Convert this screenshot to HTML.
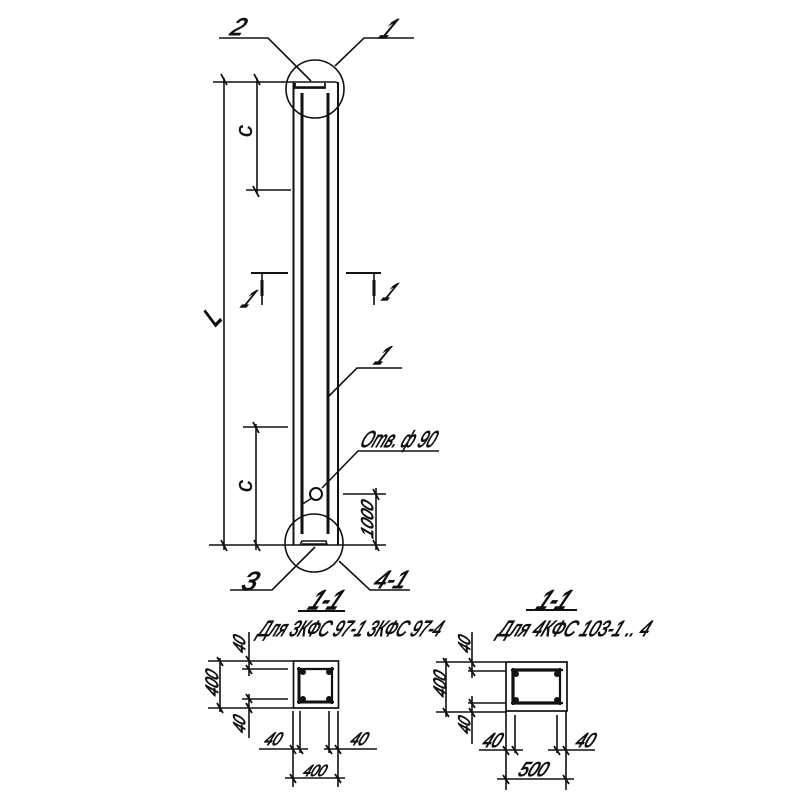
<!DOCTYPE html>
<html>
<head>
<meta charset="utf-8">
<style>
html,body{margin:0;padding:0;background:#fff;width:800px;height:800px;overflow:hidden}
svg{display:block}
.t{font-family:"Liberation Sans",sans-serif;font-style:italic;fill:#111;stroke:#111;stroke-width:.9px}
</style>
</head>
<body>
<svg width="800" height="800" viewBox="0 0 800 800" xmlns="http://www.w3.org/2000/svg">
<rect width="800" height="800" fill="#fff"/>
<g fill="none" stroke="#111" stroke-width="1.6">
  <!-- Column outline -->
  <path d="M293.5 82V545M338 82V545" stroke-width="2"/>
  <path d="M213 82H335Q338 82 338 85"/>
  <path d="M209 545H386"/>
  <!-- Rebars -->
  <path d="M302 93V534M328 93V534" stroke-width="3"/>
  <!-- Plates -->
  <path d="M295 83V88H325V83" stroke-width="1.8"/>
  <path d="M300 545L302 541H326L327 545" stroke-width="1.6"/>
  <path d="M296 87H325M302 544H326" stroke-width="1.6"/>
  <!-- Circles -->
  <circle cx="315" cy="89" r="29"/>
  <circle cx="314" cy="543" r="29"/>
  <circle cx="316" cy="494" r="6" stroke-width="2" fill="#fff"/>
  <!-- Leaders -->
  <path d="M219 38H268L311 81"/>
  <path d="M414 38H364L335 66"/>
  <path d="M402 368H357L328 397"/>
  <path d="M439 451H358L322 488M312 498L301 505"/>
  <path d="M230 590H272L315 547"/>
  <path d="M410 590H370L339 561"/>
  <!-- Main dimensions -->
  <path d="M224 78V550"/>
  <path d="M257 78V193M246 190H291"/>
  <path d="M256 424V550M243 427H288"/>
  <path d="M376 488V550M343 494H386"/>
  <!-- Section marks -->
  <path d="M251 273H288M346 273H381" stroke-width="2"/>
  <path d="M262 273V305M374 273V305"/>
  <path d="M262 280V296M374 280V296" stroke-width="3"/>
  <!-- Left section -->
  <rect x="293.5" y="661" width="45" height="47" stroke-width="1.7"/>
  <path d="M297 669H334M297 702H334M299 667V704M332 667V704" stroke-width="2.2"/>
  <path d="M299 669V702M299 702H332" stroke-width="3"/>
  <path d="M298 611H345" stroke-width="2"/>
  <path d="M208 661H293M208 708H293M242 669H288M242 699H288"/>
  <path d="M220 658V712M249 632V676M249 694V738"/>
  <path d="M293 711V787M300 711V753M329 711V753M338 711V787"/>
  <path d="M259 749H308M324 749H377M285 778H345"/>
  <!-- Right section -->
  <rect x="506" y="662" width="61" height="49" stroke-width="1.7"/>
  <path d="M511 670H563M511 703H563M513 668V705M560 668V705" stroke-width="2.2"/>
  <path d="M513 670H560M513 670V703M513 703H560" stroke-width="3.2"/>
  <path d="M526 610H577" stroke-width="2"/>
  <path d="M436 662H506M436 712H506M468 671H506M468 703H506"/>
  <path d="M446 658V717M472 632V678M472 696V744"/>
  <path d="M506 711V790M515 715V753M557 715V753M566 711V790"/>
  <path d="M479 750H523M548 750H595M497 779H574"/>
  <!-- Ticks -->
  <path stroke-width="1.8" d="M221 74L227 85M254 74L260 85M221 540L227 551M254 540L260 551M253 186L259 197M253 422L259 433M373 489L379 500M373 540L379 551
  M217 657L223 666M217 703L223 713M246 656L252 665M246 665L252 674M246 694L252 703M246 703L252 713
  M290 745L296 754M297 745L303 754M326 745L332 754M335 745L341 754M290 774L296 783M335 774L341 783
  M443 658L449 667M443 708L449 717M469 658L475 667M469 667L475 676M469 699L475 708M469 708L475 717
  M503 746L509 755M512 746L518 755M554 746L560 755M563 746L569 755M503 775L509 784M563 775L569 784"/>
</g>
<!-- Rebar corner dots -->
<g fill="#111">
  <circle cx="303" cy="672" r="3"/><circle cx="329" cy="672" r="3"/><circle cx="303" cy="699" r="3"/><circle cx="329" cy="699" r="3"/>
  <circle cx="516" cy="674" r="3"/><circle cx="557" cy="674" r="3"/><circle cx="516" cy="700" r="3"/><circle cx="557" cy="700" r="3"/>
</g>
<!-- Labels -->
<g class="t">
  <text transform="translate(229,35) skewX(-22)" font-size="24">2</text>
  <text transform="translate(378,38) skewX(-35)" font-size="27" style="stroke-width:1.6px" textLength="10" lengthAdjust="spacingAndGlyphs">1</text>
  <text transform="translate(240,307) skewX(-35)" font-size="24" style="stroke-width:1.6px" textLength="8" lengthAdjust="spacingAndGlyphs">1</text>
  <text transform="translate(381,300) skewX(-35)" font-size="24" style="stroke-width:1.6px" textLength="8" lengthAdjust="spacingAndGlyphs">1</text>
  <text transform="translate(373,364) skewX(-35)" font-size="25" style="stroke-width:1.6px" textLength="9" lengthAdjust="spacingAndGlyphs">1</text>
  <text transform="translate(359,447) skewX(-24)" font-size="23" textLength="74" lengthAdjust="spacingAndGlyphs">Отв. ф 90</text>
  <text transform="translate(240,590) skewX(-20)" font-size="26" textLength="15" lengthAdjust="spacingAndGlyphs">3</text>
  <text transform="translate(372,588) skewX(-24)" font-size="25" textLength="32" lengthAdjust="spacingAndGlyphs">4-1</text>
  <text transform="translate(215,327) rotate(-45)" font-size="27" style="stroke-width:1.3px" textLength="11" lengthAdjust="spacingAndGlyphs">L</text>
  <text transform="translate(252,131) rotate(-90)" font-size="24" style="stroke-width:.4px" text-anchor="middle">c</text>
  <text transform="translate(252,486) rotate(-90)" font-size="24" style="stroke-width:.4px" text-anchor="middle">c</text>
  <text transform="translate(373,521) rotate(-90) skewX(-22)" font-size="17" text-anchor="middle" textLength="36" lengthAdjust="spacingAndGlyphs">1000</text>

  <text transform="translate(307,609) skewX(-28)" font-size="27" style="stroke-width:1.4px" textLength="30" lengthAdjust="spacingAndGlyphs">1-1</text>
  <text transform="translate(257,636) skewX(-24)" font-size="22" textLength="182" lengthAdjust="spacingAndGlyphs">Для 3КФС 97-1  3КФС 97-4</text>
  <text transform="translate(245,646) rotate(-90) skewX(-22)" font-size="17" text-anchor="middle" textLength="16" lengthAdjust="spacingAndGlyphs">40</text>
  <text transform="translate(218,685) rotate(-90) skewX(-22)" font-size="18" text-anchor="middle" textLength="25" lengthAdjust="spacingAndGlyphs">400</text>
  <text transform="translate(245,726) rotate(-90) skewX(-22)" font-size="17" text-anchor="middle" textLength="16" lengthAdjust="spacingAndGlyphs">40</text>
  <text transform="translate(263,745) skewX(-24)" font-size="18" textLength="16" lengthAdjust="spacingAndGlyphs">40</text>
  <text transform="translate(349,745) skewX(-24)" font-size="18" textLength="16" lengthAdjust="spacingAndGlyphs">40</text>
  <text transform="translate(302,776) skewX(-24)" font-size="16" textLength="22" lengthAdjust="spacingAndGlyphs">400</text>

  <text transform="translate(535,609) skewX(-28)" font-size="27" style="stroke-width:1.4px" textLength="30" lengthAdjust="spacingAndGlyphs">1-1</text>
  <text transform="translate(497,636) skewX(-24)" font-size="22" textLength="150" lengthAdjust="spacingAndGlyphs">Для 4КФС 103-1 .. 4</text>
  <text transform="translate(470,646) rotate(-90) skewX(-22)" font-size="17" text-anchor="middle" textLength="16" lengthAdjust="spacingAndGlyphs">40</text>
  <text transform="translate(446,686) rotate(-90) skewX(-22)" font-size="18" text-anchor="middle" textLength="25" lengthAdjust="spacingAndGlyphs">400</text>
  <text transform="translate(470,727) rotate(-90) skewX(-22)" font-size="17" text-anchor="middle" textLength="16" lengthAdjust="spacingAndGlyphs">40</text>
  <text transform="translate(481,747) skewX(-24)" font-size="20" textLength="18" lengthAdjust="spacingAndGlyphs">40</text>
  <text transform="translate(574,747) skewX(-24)" font-size="20" textLength="18" lengthAdjust="spacingAndGlyphs">40</text>
  <text transform="translate(517,776) skewX(-24)" font-size="20" textLength="28" lengthAdjust="spacingAndGlyphs">500</text>
</g>
</svg>
</body>
</html>
